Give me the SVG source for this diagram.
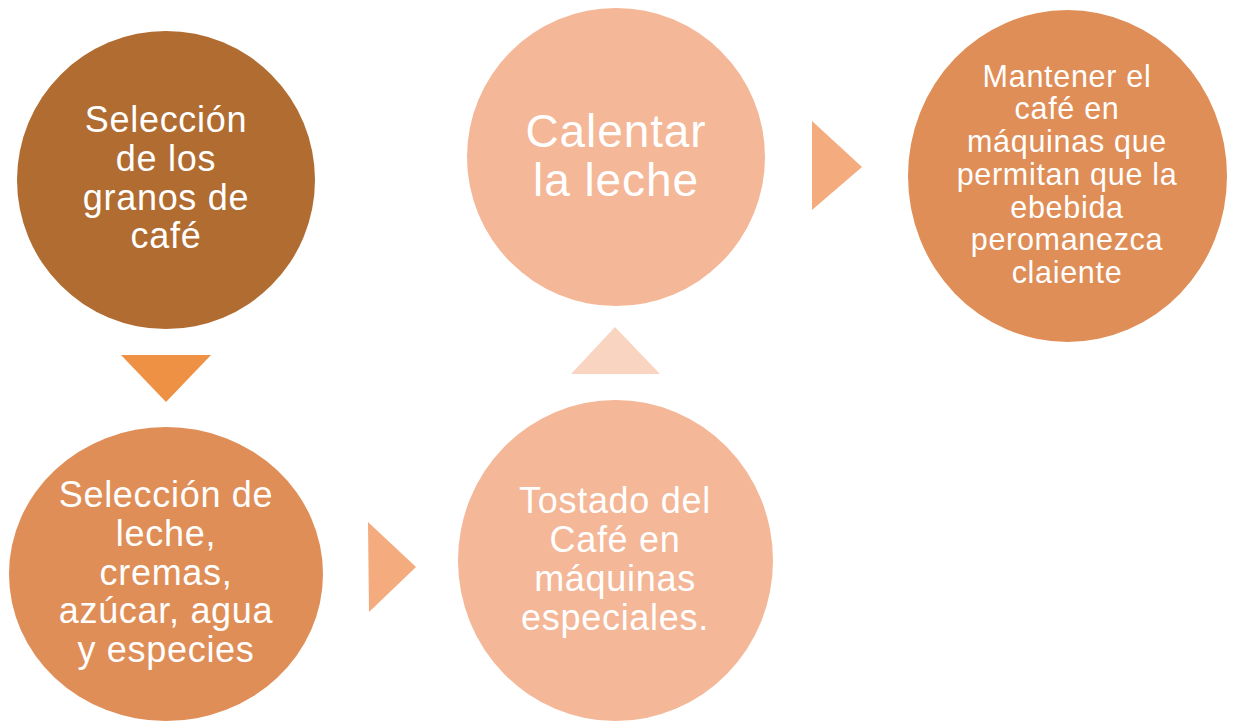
<svg xmlns="http://www.w3.org/2000/svg" width="1234" height="723" viewBox="0 0 1234 723">
<style>
text { font-family: "Liberation Sans", Arial, sans-serif; fill: #ffffff; text-anchor: middle; }
.t36 { font-size: 36px; letter-spacing: 0.7px; }
.t46 { font-size: 46px; letter-spacing: 0.9px; }
.t31 { font-size: 30.5px; letter-spacing: 0.7px; }
</style>
<rect width="1234" height="723" fill="#ffffff"/>
<g id="connectors">
  <polygon points="121,355 211,355 166,402" fill="#EE9144"/>
  <polygon points="368,522 369,612 416,567" fill="#F4AB7D"/>
  <polygon points="571,374 660,374 615,327" fill="#F9D4C1"/>
  <polygon points="812,121 812,210 862,167" fill="#F4AB7D"/>
</g>
<g id="node1">
  <circle cx="166" cy="180" r="149" fill="#B06C31"/>
  <text class="t36"><tspan x="166" y="132">Selección</tspan><tspan x="166" y="171">de los</tspan><tspan x="166" y="210">granos de</tspan><tspan x="166" y="248">café</tspan></text>
</g>
<g id="node2">
  <ellipse cx="166" cy="574" rx="157" ry="147" fill="#E08E57"/>
  <text class="t36"><tspan x="166" y="507">Selección de</tspan><tspan x="166" y="546">leche,</tspan><tspan x="166" y="585">cremas,</tspan><tspan x="166" y="623">azúcar, agua</tspan><tspan x="166" y="662">y especies</tspan></text>
</g>
<g id="node3">
  <ellipse cx="615.5" cy="560.5" rx="157.5" ry="160.5" fill="#F4B797"/>
  <text class="t36"><tspan x="615" y="513">Tostado del</tspan><tspan x="615" y="552">Café en</tspan><tspan x="615" y="591">máquinas</tspan><tspan x="615" y="630">especiales.</tspan></text>
</g>
<g id="node4">
  <circle cx="616" cy="157" r="149" fill="#F4B797"/>
  <text class="t46"><tspan x="616" y="147">Calentar</tspan><tspan x="616" y="196">la leche</tspan></text>
</g>
<g id="node5">
  <ellipse cx="1067.5" cy="176" rx="159.5" ry="166" fill="#E08E57"/>
  <text class="t31"><tspan x="1067" y="87">Mantener el</tspan><tspan x="1067" y="119">café en</tspan><tspan x="1067" y="152">máquinas que</tspan><tspan x="1067" y="185">permitan que la</tspan><tspan x="1067" y="218">ebebida</tspan><tspan x="1067" y="250">peromanezca</tspan><tspan x="1067" y="283">claiente</tspan></text>
</g>
</svg>
